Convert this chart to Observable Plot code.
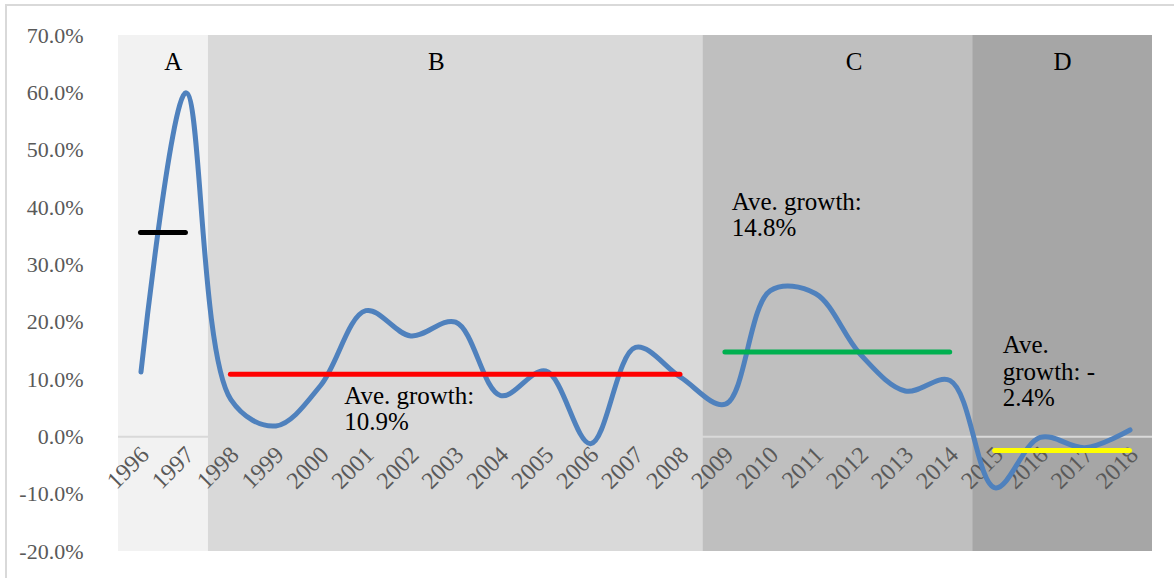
<!DOCTYPE html>
<html>
<head>
<meta charset="utf-8">
<script src="https://cdn.jsdelivr.net/npm/d3@7"></script>
<script src="https://cdn.jsdelivr.net/npm/@observablehq/plot@0.6"></script>
<style>
  html, body { margin: 0; padding: 0; background: #fff; overflow: hidden; }
  #wrap { position: relative; width: 1174px; height: 578px; }
  #border { position: absolute; left: 5px; top: 4px; width: 1200px; height: 600px;
            border: 2px solid #d9d9d9; box-sizing: border-box; pointer-events: none; }
  svg { position: absolute; left: 0; top: 0; }
</style>
</head>
<body>
<div id="wrap"><div id="border"></div></div>
<script>
// ---- data ----
const years = [1996, 1997, 1998, 1999, 2000, 2001, 2002, 2003, 2004, 2005, 2006, 2007,
               2008, 2009, 2010, 2011, 2012, 2013, 2014, 2015, 2016, 2017, 2018];
const growth = [11.3, 60.0, 6.5, 1.9, 9.0, 22.0, 17.6, 20.0, 7.2, 11.5, -1.2, 15.6,
                10.4, 5.7, 25.5, 25.0, 14.4, 8.0, 9.8, -8.9, -0.1, -1.9, 1.2];
const periods = ["A", "B", "C", "D"];
const periodStart = [1996, 1998, 2009, 2015];
const periodEnd = [1997, 2008, 2014, 2018];
const periodAverage = [35.65, 10.9, 14.8, -2.4];
const notes = ["Ave. growth:\n10.9%", "Ave. growth:\n14.8%", "Ave.\ngrowth: -\n2.4%"];
const yTicks = [-20, -10, 0, 10, 20, 30, 40, 50, 60, 70];

// ---- styles / layout ----
const bandFill = ["#F2F2F2", "#D9D9D9", "#BFBFBF", "#A6A6A6"];
const avgStroke = ["#000000", "#FF0000", "#00B050", "#FFFF00"];
const labelShift = [0.22, -0.43, 0.36, 0.0];   // in category units
const noteAt = [{x: 2000.52, y: 9.0}, {x: 2009.14, y: 42.9}, {x: 2015.17, y: 17.8}];
const font = "'Liberation Serif', 'DejaVu Serif', serif";

const series = years.map((y, i) => ({year: y, growth: growth[i]}));
const bands = periods.map((p, i) => ({period: p, x1: periodStart[i] - 0.5, x2: periodEnd[i] + 0.5,
  start: periodStart[i], end: periodEnd[i], avg: periodAverage[i], i}));
const noteData = notes.map((t, i) => ({text: t, ...noteAt[i]}));

const chart = Plot.plot({
  width: 1174,
  height: 578,
  marginLeft: 118,
  marginRight: 22,
  marginTop: 35,
  marginBottom: 27,
  style: {fontFamily: font, background: "transparent", overflow: "visible"},
  x: {domain: [years[0] - 0.5, years[years.length - 1] + 0.5], axis: null},
  y: {domain: [-20, 70], axis: null},
  marks: [
    Plot.rectY(bands, {x1: "x1", x2: "x2", y1: -20, y2: 70, fill: d => bandFill[d.i]}),
    Plot.ruleY([0], {stroke: "#D9D9D9", strokeWidth: 2}),
    Plot.text(yTicks, {x: years[0] - 0.5, y: d => d, text: d => d.toFixed(1) + "%",
      textAnchor: "end", dx: -35, fontSize: 22, fill: "#595959", fontFamily: font}),
    Plot.text(series, {x: "year", y: 0, text: d => String(d.year), rotate: -45, textAnchor: "end",
      lineAnchor: "middle", dx: 4, dy: 14, fontSize: 24, fill: "#595959", fontFamily: font}),
    Plot.text(bands, {x: d => (d.start + d.end) / 2 + labelShift[d.i], y: 65.4, text: "period",
      fontSize: 25, fill: "#000", fontFamily: font}),
    Plot.line(series, {x: "year", y: "growth", curve: "catmull-rom", stroke: "#4F81BD",
      strokeWidth: 5, strokeLinecap: "round", strokeLinejoin: "round"}),
    Plot.ruleY(bands, {x1: "start", x2: "end", y: "avg", stroke: d => avgStroke[d.i],
      strokeWidth: 5, strokeLinecap: "round"}),
    Plot.text(noteData, {x: "x", y: "y", text: "text", textAnchor: "start", lineAnchor: "top",
      lineHeight: 1.05, fontSize: 25, fill: "#000", fontFamily: font})
  ]
});
document.getElementById("wrap").appendChild(chart);
</script>
</body>
</html>
